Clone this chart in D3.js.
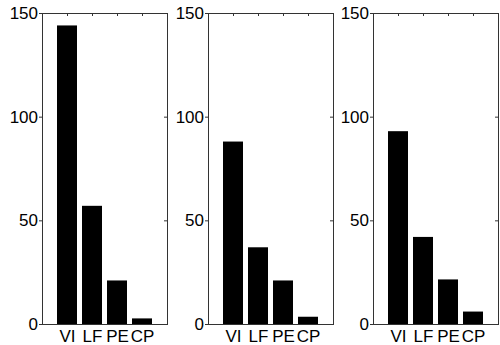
<!DOCTYPE html>
<html>
<head>
<meta charset="utf-8">
<script src="https://cdn.jsdelivr.net/npm/d3@7"></script>
<style>
  body { margin: 0; background: #fff; }
  svg { display: block; }
  .tick text { font-family: "Liberation Sans", Arial, sans-serif; font-size: 17px; fill: #000; }
</style>
</head>
<body>
<svg id="chart"></svg>
<script>
// values
const categories = ["VI", "LF", "PE", "CP"];
const panel1 = [144, 57, 21, 2.7];
const panel2 = [88, 37, 21, 3.5];
const panel3 = [93, 42, 21.5, 6];
const yTicks = [0, 50, 100, 150];

const panels = [panel1, panel2, panel3];
const W = 500, H = 345;
const panelLeft = [42, 208, 373];
const panelWidth = 125;
const plotTop = 13, plotBottom = 324;
const axisColor = "#333";

const svg = d3.select("#chart").attr("width", W).attr("height", H);

const y = d3.scaleLinear().domain([0, 150]).range([plotBottom, plotTop]);

panels.forEach((vals, p) => {
  const x0 = panelLeft[p];
  // categories sit at 1..4, axis runs 0..5 like matlab bar()
  const x = d3.scaleLinear().domain([0, 5]).range([x0, x0 + panelWidth]);
  const barW = (x(1) - x(0)) * 0.8;
  const g = svg.append("g");

  g.selectAll("rect.bar")
    .data(vals)
    .enter().append("rect")
    .attr("class", "bar")
    .attr("x", (d, i) => x(i + 1) - barW / 2)
    .attr("y", d => y(d))
    .attr("width", barW)
    .attr("height", d => y(0) - y(d))
    .attr("fill", "#000");

  // left axis, ticks outward
  const yAxis = g.append("g")
    .attr("transform", "translate(" + x0 + ",0)")
    .call(d3.axisLeft(y).tickValues(yTicks).tickSize(3).tickPadding(1));
  // right axis, ticks pointing in
  const yAxisR = g.append("g")
    .attr("transform", "translate(" + (x0 + panelWidth) + ",0)")
    .call(d3.axisLeft(y).tickValues(yTicks.slice(1, 3)).tickSize(3).tickFormat(""));
  // bottom with labels
  const xAxis = g.append("g")
    .attr("transform", "translate(0," + plotBottom + ")")
    .call(d3.axisBottom(x).tickValues([1, 2, 3, 4]).tickSize(0).tickPadding(6)
      .tickFormat(d => categories[d - 1]));
  // top ticks pointing down
  const xAxisT = g.append("g")
    .attr("transform", "translate(0," + plotTop + ")")
    .call(d3.axisBottom(x).tickValues([1, 2, 3, 4]).tickSize(3).tickFormat(""));

  [yAxis, yAxisR, xAxis, xAxisT].forEach(a => {
    a.select(".domain").remove();
    a.selectAll("line").attr("stroke", axisColor);
  });

  g.append("rect")
    .attr("x", x0 + 0.5)
    .attr("y", plotTop + 0.5)
    .attr("width", panelWidth)
    .attr("height", plotBottom - plotTop)
    .attr("fill", "none")
    .attr("stroke", axisColor)
    .attr("stroke-width", 1);
});
</script>
</body>
</html>
